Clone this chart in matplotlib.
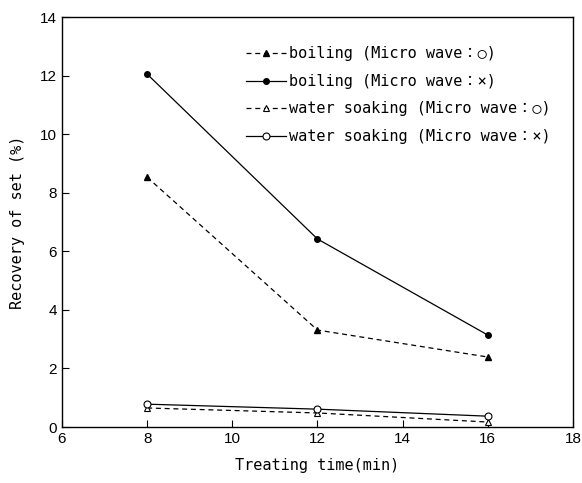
import numpy as np
import matplotlib
matplotlib.use("Agg")
import matplotlib.pyplot as plt

plt.rcParams['font.family'] = ['Liberation Sans', 'DejaVu Sans']
mono = ['DejaVu Sans Mono', 'Noto Sans CJK JP']

# data
time_min = [8, 12, 16]
boil_mw_on = [8.53, 3.31, 2.39]
boil_mw_off = [12.05, 6.42, 3.14]
soak_mw_on = [0.65, 0.48, 0.17]
soak_mw_off = [0.78, 0.61, 0.37]

labels = ["boiling (Micro wave：○)",
          "boiling (Micro wave：×)",
          "water soaking (Micro wave：○)",
          "water soaking (Micro wave：×)"]

fig = plt.figure(figsize=(5.82, 4.83), dpi=100, facecolor="white")
ax = fig.add_axes([0.1065, 0.1159, 0.878, 0.8489])

ax.plot(time_min, boil_mw_on, 'k--', marker='^', ms=4, lw=0.9, dashes=(4, 3), label=labels[0])
ax.plot(time_min, boil_mw_off, 'k-', marker='o', ms=4, lw=0.9, label=labels[1])
ax.plot(time_min, soak_mw_on, 'k--', marker='^', ms=5, lw=0.9, dashes=(4, 3),
        mfc='white', mew=0.8, label=labels[2])
ax.plot(time_min, soak_mw_off, 'k-', marker='o', ms=5, lw=0.9,
        mfc='white', mew=0.8, label=labels[3])

ax.set_xlim(6, 18)
ax.set_ylim(0, 14)
ax.set_xticks(np.arange(6, 19, 2))
ax.set_yticks(np.arange(0, 15, 2))
ax.tick_params(direction='in', length=5, width=0.8, labelsize=11, top=False, right=False)
for s in ax.spines.values():
    s.set_linewidth(1.0)

ax.set_xlabel("Treating time(min)", fontsize=11, family=mono, labelpad=9)
ax.set_ylabel("Recovery of set (%)", fontsize=11, family=mono, labelpad=11)

ax.legend(loc='upper left', bbox_to_anchor=(0.334, 0.962), frameon=False,
          prop={'family': mono, 'size': 11}, handlelength=2.6, handletextpad=0.2,
          labelspacing=0.82)

fig.savefig("out.png", dpi=100)
